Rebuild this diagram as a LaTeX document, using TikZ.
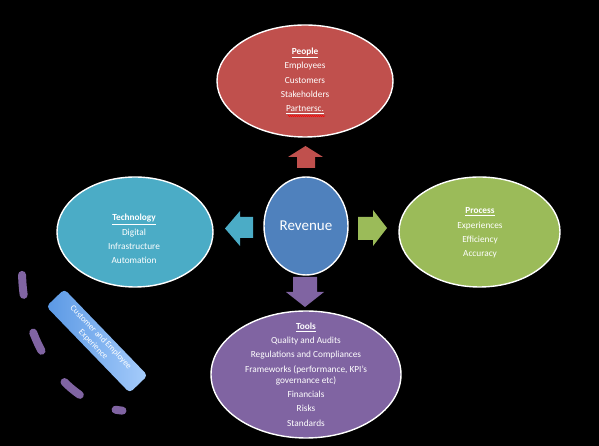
\documentclass[tikz,border=0pt]{standalone}
\usepackage{fontspec}
\setmainfont{Carlito}
\usetikzlibrary{shapes.geometric,decorations.pathmorphing}
\definecolor{peoplered}{HTML}{C0504D}
\definecolor{processgreen}{HTML}{9BBB59}
\definecolor{techaqua}{HTML}{4BACC6}
\definecolor{toolspurple}{HTML}{8064A2}
\definecolor{revblue}{HTML}{4F81BD}
\definecolor{cxlight}{HTML}{A6CCFB}
\definecolor{cxdark}{HTML}{5A98E4}
\begin{document}
\begin{tikzpicture}[x=1pt,y=1pt,
  blob/.style={ellipse, draw=white, line width=1.4pt, inner sep=0pt},
  itemtext/.style={text=white, align=center, inner sep=0pt,
    font=\fontsize{9.3}{11}\selectfont}]

\fill[black] (0,0) rectangle (599,446);
\useasboundingbox (0,0) rectangle (599,446);

% centre
\node[blob, fill=revblue, minimum width=84pt, minimum height=98pt] (revenue) at (306,220) {};
\node[text=white, font=\fontsize{15}{18}\selectfont] (revtxt) at (revenue.center) {Revenue};

% block arrows
\fill[peoplered] (297,278) -- (297,289) -- (288,289) -- (305.5,300) -- (323,289) -- (315,289) -- (315,278) -- cycle;
\fill[toolspurple] (293,169) -- (317,169) -- (317,154) -- (324,154) -- (305,139) -- (286,154) -- (293,154) -- cycle;
\fill[techaqua] (253,229) -- (240,229) -- (240,235) -- (225,217.5) -- (240,200) -- (240,208) -- (253,208) -- cycle;
\fill[processgreen] (358,229) -- (373,229) -- (373,236) -- (387,218) -- (373,200) -- (373,206) -- (358,206) -- cycle;

% people
\node[blob, fill=peoplered, minimum width=176pt, minimum height=112pt] (people) at (305,365) {};
\node[itemtext] (peopletxt) at (people.center) {\textbf{\underline{People}}\\[3.3pt]
  Employees\\[3.3pt] Customers\\[3.3pt] Stakeholders\\[3.3pt] \underline{Partnersc.}};
\draw[red, line width=0.5pt, decorate, decoration={snake, amplitude=0.6pt, segment length=2pt}] (288,330) -- (325,330);

% process
\node[blob, fill=processgreen, minimum width=161pt, minimum height=110pt] (process) at (479.5,214) {};
\node[itemtext] (processtxt) at (480,213) {\textbf{\underline{Process}}\\[3.3pt]
  Experiences\\[3.3pt] Efficiency\\[3.3pt] Accuracy};

% technology
\node[blob, fill=techaqua, minimum width=156pt, minimum height=110pt] (technology) at (135,214) {};
\node[itemtext] (techtxt) at (134,207) {\textbf{\underline{Technology}}\\[3.3pt]
  Digital\\[3.3pt] Infrastructure\\[3.3pt] Automation};

% tools
\node[blob, fill=toolspurple, minimum width=190pt, minimum height=127pt] (tools) at (306,71.5) {};
\node[itemtext] (toolstxt) at (tools.center) {\textbf{\underline{Tools}}\\[3.3pt]
  Quality and Audits\\[3.3pt] Regulations and Compliances\\[3.3pt]
  Frameworks (performance, KPI's\\ governance etc)\\[3.3pt]
  Financials\\[3.3pt] Risks\\[3.3pt] Standards};

% experience band
\draw[toolspurple, line width=8pt, line cap=round, dash pattern=on 20pt off 39pt]
  (22.07,171.08) arc[start angle=182, end angle=266, x radius=108, y radius=141];
\node[rotate=-46, rounded corners=4pt, left color=cxdark, right color=cxlight,
  minimum width=120pt, minimum height=25pt, inner sep=1pt, align=center,
  text=white, font=\fontsize{8.5}{10.5}\selectfont] (cxbox) at (97,105)
  {Customer and Employee\\ Experience};
\end{tikzpicture}
\end{document}
